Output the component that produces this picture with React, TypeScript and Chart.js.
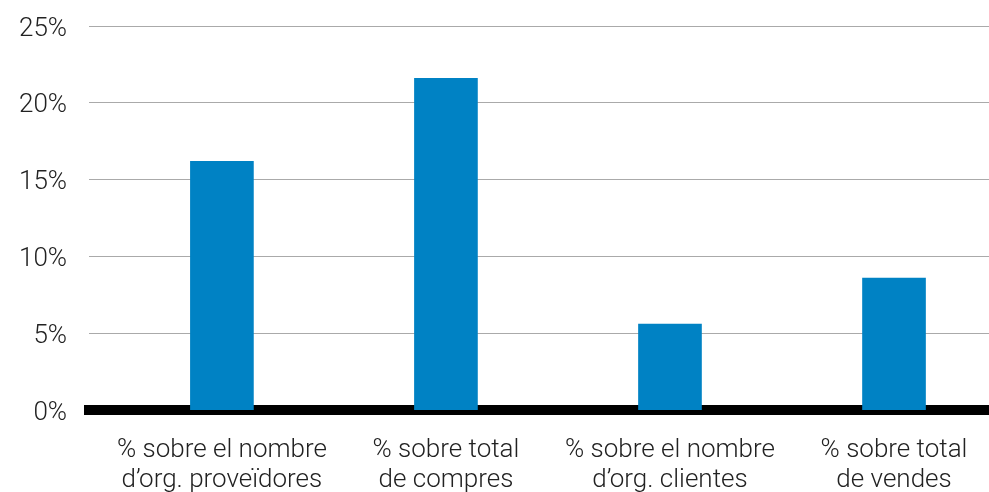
import React, { useEffect, useRef } from "react";
import { Chart, registerables } from "chart.js";

Chart.register(...registerables);

const categories: string[][] = [
  ["% sobre el nombre", "d’org. proveïdores"],
  ["% sobre total", "de compres"],
  ["% sobre el nombre", "d’org. clientes"],
  ["% sobre total", "de vendes"],
];
const positions = [0, 1, 2, 3];
const values = [16.2, 21.6, 5.6, 8.6];
const yTicks = [0, 5, 10, 15, 20, 25];

const FONT = "Roboto, 'Liberation Sans', Arial, sans-serif";

export default function App() {
  const ref = useRef<HTMLCanvasElement | null>(null);
  useEffect(() => {
    if (!ref.current) return;
    const chart = new Chart(ref.current, {
      type: "bar",
      data: {
        datasets: [
          {
            data: positions.map((p, i) => ({ x: p, y: values[i] })),
            backgroundColor: "#0082C4",
            barThickness: 63,
          },
        ],
      },
      options: {
        animation: false,
        responsive: false,
        layout: { padding: { top: 26, left: -3, right: 0, bottom: -29 } },
        plugins: { legend: { display: false }, tooltip: { enabled: false } },
        scales: {
          x: {
            type: "linear",
            offset: false,
            min: -0.593,
            max: 3.424,
            afterBuildTicks: (axis: any) => {
              axis.ticks = positions.map((v) => ({ value: v }));
            },
            afterFit: (axis: any) => {
              axis.paddingLeft = 0;
              axis.paddingRight = 0;
            },
            grid: { display: false, drawTicks: false },
            border: { display: true, color: "#000", width: 10 },
            ticks: {
              autoSkip: false,
              maxRotation: 0,
              padding: 25,
              color: "#222222",
              font: { family: FONT, size: 26, weight: "300", lineHeight: 1.17 },
              callback: (v: any) => categories[positions.indexOf(Number(v))] ?? "",
            },
          },
          y: {
            min: 0,
            max: 25,
            afterBuildTicks: (axis: any) => {
              axis.ticks = yTicks.map((v) => ({ value: v }));
            },
            afterFit: (axis: any) => {
              axis.paddingTop = 0;
              axis.paddingBottom = 0;
            },
            grid: { color: "#aaaaaa", lineWidth: 1, drawTicks: false },
            border: { display: false },
            ticks: {
              padding: 22,
              labelOffset: 3,
              color: "#222222",
              font: { family: FONT, size: 26, weight: "300" },
              callback: (v: any) => v + "%",
            },
          },
        },
      },
    });
    return () => chart.destroy();
  }, []);
  return (
    <div style={{ position: "fixed", left: 0, top: 0, width: 989, height: 492, background: "#fff" }}>
      <canvas ref={ref} width={989} height={492} />
    </div>
  );
}
